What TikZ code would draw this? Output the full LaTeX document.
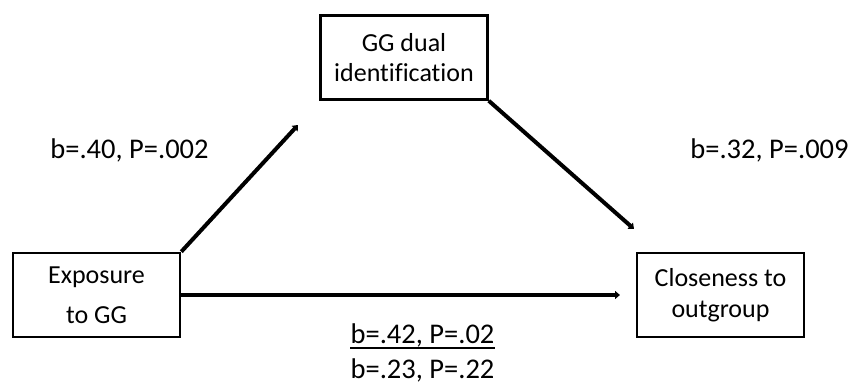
\documentclass[tikz,border=0pt]{standalone}
\usepackage{fontspec}
\setmainfont{Carlito}[Ligatures=CommonOff]
\usetikzlibrary{arrows.meta}
\begin{document}
\begin{tikzpicture}[x=1pt,y=-1pt,
  box/.style={draw=black,line width=2.6pt,minimum width=167pt,minimum height=84pt,inner sep=0pt,align=center},
  conn/.style={line width=4pt,-{Triangle[length=5pt,width=8pt]}},
  lbl/.style={anchor=base,inner sep=0pt,font=\fontsize{28.5}{34}\selectfont}]
\useasboundingbox (0,0) rectangle (854,385);
\node[box,font=\fontsize{26}{40}\selectfont] (ex) at (96.5,295) {Exposure\\to GG};
\node[box,font=\fontsize{26}{30}\selectfont] (gg) at (404,57.5) {GG dual\\identification};
\node[box,font=\fontsize{26}{31}\selectfont] (cl) at (720.5,295) {Closeness to\\outgroup};
\coordinate (t1) at (298,125);
\coordinate (t2) at (634,229);
\coordinate (t3) at (620,295);
\draw[conn] (ex.north east) -- (t1);
\draw[conn] (gg.south east) -- (t2);
\draw[conn] (ex.east) -- (t3);
\node[lbl] (l1) at (129.5,158) {b=.40, P=.002};
\node[lbl] (l2) at (769.5,158) {b=.32, P=.009};
\node[lbl] (l3) at (422.5,343) {b=.42, P=.02};
\node[lbl] (l4) at (422.5,378) {b=.23, P=.22};
\draw[line width=1.5pt] (l3.base west) ++(0,5) coordinate (u1) -- (l3.base east |- u1);
\end{tikzpicture}
\end{document}
